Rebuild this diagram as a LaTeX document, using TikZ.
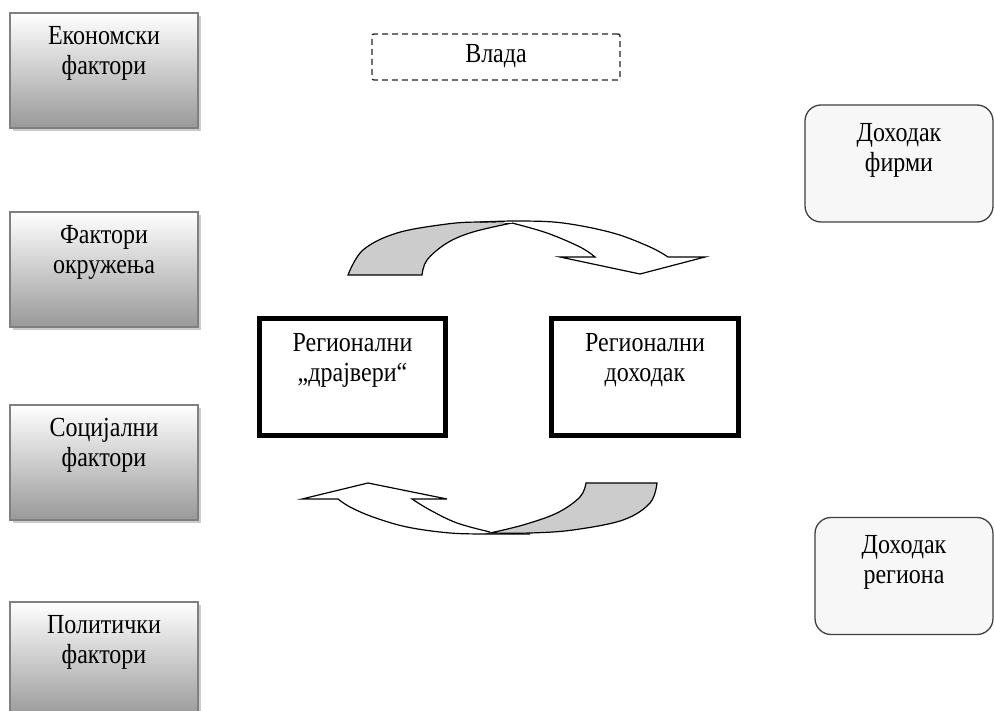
\documentclass[tikz,border=0pt]{standalone}
\usepackage{fontspec}
\setmainfont{Liberation Serif}
\usepackage{graphicx}
\usetikzlibrary{shadows}
\newcommand{\vtxt}[1]{\scalebox{1}[1.15]{\begin{tabular}{@{}c@{}}#1\end{tabular}}}
\definecolor{bandgrey}{HTML}{CCCCCC}
\definecolor{roundfill}{HTML}{F7F7F7}
\tikzset{
  factorbox/.style={draw=black!50, line width=1.3pt, top color=white, bottom color=black!40,
    minimum width=188pt, minimum height=115pt, inner sep=0pt,
    drop shadow={shadow xshift=3pt, shadow yshift=-3pt, fill=black!25, opacity=0.8}},
  mainbox/.style={draw=black, line width=5pt, fill=white, minimum width=186pt, minimum height=116pt, inner sep=0pt},
  incomebox/.style={draw=black!75, line width=1.3pt, fill=roundfill, rounded corners=16pt, minimum height=117pt, inner sep=0pt},
  govbox/.style={draw=black!85, line width=1.4pt, dash pattern=on 6pt off 4pt, rounded corners=2pt,
    minimum width=248pt, minimum height=46pt, inner sep=0pt},
  txt/.style={font=\fontsize{24}{26}\selectfont, inner sep=0pt, anchor=north},
  band/.style={draw=black, line width=1.2pt},
}
\begin{document}
\begin{tikzpicture}[x=1pt,y=-1pt]
\useasboundingbox (0,0) rectangle (994,711);
\clip (0,0) rectangle (994,711);
\fill[white] (0,0) rectangle (994,711);

% left factor boxes
\node[factorbox] (eco) at (104,70.5) {};
\node[txt, yshift=-11pt] (ecot) at (eco.north) {\vtxt{Економски\\фактори}};
\node[factorbox] (env) at (104,269.5) {};
\node[txt, yshift=-11pt] (envt) at (env.north) {\vtxt{Фактори\\окружења}};
\node[factorbox] (soc) at (104,462.5) {};
\node[txt, yshift=-11pt] (soct) at (soc.north) {\vtxt{Социјални\\фактори}};
\node[factorbox] (pol) at (104,659.5) {};
\node[txt, yshift=-11pt] (polt) at (pol.north) {\vtxt{Политички\\фактори}};

% government
\node[govbox] (gov) at (496,57) {};
\node[txt, anchor=center] (govt) at (496,57) {\vtxt{Влада}};

% income boxes on the right
\node[incomebox, minimum width=188pt] (firm) at (899,163.5) {};
\node[txt, yshift=-16pt] (firmt) at (firm.north) {\vtxt{Доходак\\фирми}};
\node[incomebox, minimum width=178pt] (reg) at (904,576) {};
\node[txt, yshift=-16pt] (regt) at (reg.north) {\vtxt{Доходак\\региона}};

% main boxes
\node[mainbox] (drv) at (352.5,377) {};
\node[txt, yshift=-14pt] (drvt) at (drv.north) {\vtxt{Регионални\\„драјвери“}};
\node[mainbox, minimum width=187pt] (inc) at (645,377) {};
\node[txt, yshift=-14pt] (inct) at (inc.north) {\vtxt{Регионални\\доходак}};

% top curved arrow
\filldraw[band, fill=bandgrey] plot[smooth, tension=0.6] coordinates {(348,275) (363,250) (397,233) (447,224) (480,222) (512,223)}
  -- plot[smooth, tension=0.6] coordinates {(512,223) (473,232) (447,243) (427,260) (422,275)} -- cycle;
\filldraw[band, fill=white] plot[smooth, tension=0.6] coordinates {(480,222) (520,221) (563,223) (613,233) (650,247) (668,257)}
  -- (705,257) -- (640,274) -- (560,257) -- (595,257)
  -- plot[smooth, tension=0.6] coordinates {(595,257) (580,247) (547,233) (512,223)};

% bottom curved arrow
\filldraw[band, fill=white] plot[smooth, tension=0.6] coordinates {(530,534) (490,534) (450,533) (407,527) (373,517) (350,507) (338,499)}
  -- (302,499) -- (368,483) -- (447,499) -- (412,499)
  -- plot[smooth, tension=0.6] coordinates {(412,499) (430,510) (457,523) (490,532)};
\filldraw[band, fill=bandgrey] (586,483) -- plot[smooth, tension=0.6] coordinates {(657,483) (650,503) (623,520) (573,530) (530,533) (490,533)}
  -- plot[smooth, tension=0.6] coordinates {(490,533) (523,525) (557,513) (580,497) (586,483)} -- cycle;
\end{tikzpicture}
\end{document}
